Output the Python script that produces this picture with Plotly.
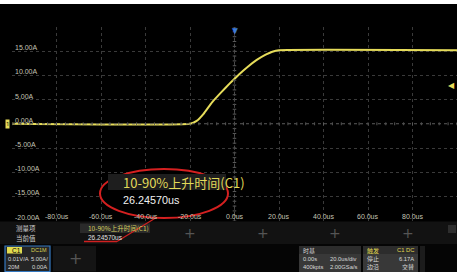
import plotly.graph_objects as go

# ---- data ----
time_us = [-100, -20, -17, -14, -10, -6, -2, 2, 6, 10, 14, 17, 20, 100]
current_a = [0, 0, 0.6, 2.0, 4.5, 6.5, 8.4, 10.2, 11.8, 13.2, 14.3, 14.9, 15.2, 15.2]
y_ticks = [15, 10, 5, 0, -5, -10, -15, -20]
y_tick_labels = ["15.00A", "10.00A", "5.00A", "0.00A", "-5.00A", "-10.00A", "-15.00A", "-20.00A"]
x_ticks = [-80, -60, -40, -20, 0, 20, 40, 60, 80]
x_tick_labels = ["-80.0us", "-60.0us", "-40.0us", "-20.0us", "0.0us", "20.0us", "40.0us", "60.0us", "80.0us"]
meas_name = "10-90%上升时间(C1)"
meas_value = "26.24570us"
trigger_level = 6.17

W, H = 457, 273
def px(x): return x / W
def py(y): return 1 - y / H

GRID_L, GRID_R, GRID_T, GRID_B = 12, 457, 27, 220.6
YEL = "#e6dc5a"
LBL = "#c4c4b4"
CJK = "Noto Sans CJK SC"
F = "Liberation Sans"

fig = go.Figure()
fig.add_trace(go.Scatter(x=time_us, y=current_a, mode="lines",
                         line=dict(color=YEL, width=2, shape="spline", smoothing=0.4),
                         hoverinfo="skip", showlegend=False))

shapes = []
annots = []

# minor tick marks on centre axes
for k in range(-25, 26):
    t = k * 4.0
    shapes.append(dict(type="line", xref="x", yref="y", x0=t, x1=t, y0=-0.3, y1=0.3,
                       line=dict(color="#5a5a5a", width=1)))
for k in range(-20, 21):
    v = k * 1.0
    shapes.append(dict(type="line", xref="x", yref="y", x0=-0.8, x1=0.8, y0=v, y1=v,
                       line=dict(color="#5a5a5a", width=1)))
shapes.append(dict(type="line", xref="x", yref="y", x0=-100, x1=100, y0=0, y1=0,
                   line=dict(color="#4a4a4a", width=1, dash="dot")))
shapes.append(dict(type="line", xref="x", yref="y", x0=0, x1=0, y0=-20, y1=20,
                   line=dict(color="#4a4a4a", width=1, dash="dot")))

# axis labels inside the grid
for v, s in zip(y_ticks, y_tick_labels):
    annots.append(dict(x=px(13), xref="paper", y=v, yref="y", text=s, showarrow=False,
                       xanchor="left", yanchor="bottom", yshift=-2,
                       font=dict(size=7, color=LBL, family=F)))
for v, s in zip(x_ticks, x_tick_labels):
    annots.append(dict(x=v, xref="x", y=py(216), yref="paper", text=s, showarrow=False,
                       xanchor="center", yanchor="middle",
                       font=dict(size=7, color=LBL, family=F)))

# channel marker at left, trigger markers at top and right
annots.append(dict(x=px(7), xref="paper", y=0, yref="y", text="1", showarrow=False,
                   bgcolor=YEL, font=dict(size=6, color="#000"), borderpad=0,
                   xanchor="center", yanchor="middle"))
annots.append(dict(x=0, xref="x", y=py(30), yref="paper", text="▼", showarrow=False,
                   font=dict(size=10, color="#3a7ad8"), xanchor="center", yanchor="middle"))
annots.append(dict(x=px(457), xref="paper", y=py(84), yref="paper", text="◀", showarrow=False,
                   font=dict(size=8, color=YEL), xanchor="right", yanchor="middle"))

# top / bottom white strips
shapes.append(dict(type="rect", xref="paper", yref="paper", x0=0, x1=1, y0=py(4), y1=1,
                   fillcolor="#ffffff", line=dict(width=0), layer="above"))
shapes.append(dict(type="rect", xref="paper", yref="paper", x0=0, x1=1, y0=0, y1=py(272),
                   fillcolor="#ffffff", line=dict(width=0), layer="above"))

# measurement bar
shapes.append(dict(type="rect", xref="paper", yref="paper", x0=0, x1=1, y0=py(244), y1=py(221.5),
                   fillcolor="#121212", line=dict(width=0), layer="above"))
shapes.append(dict(type="rect", xref="paper", yref="paper", x0=px(80), x1=px(150), y0=py(233), y1=py(223.5),
                   fillcolor="#2a2a2a", line=dict(width=0), layer="above"))
annots += [
    dict(x=px(14), y=py(228), text="测量项", font=dict(size=6.5, color="#d0d0d0", family=CJK)),
    dict(x=px(14), y=py(237.5), text="当前值", font=dict(size=6.5, color="#d0d0d0", family=CJK)),
    dict(x=px(86), y=py(228), text=meas_name, font=dict(size=6.5, color="#d8d060", family=CJK)),
    dict(x=px(86), y=py(237.5), text=meas_value, font=dict(size=6.5, color="#e0e0e0", family=F)),
]
for xp in [190, 263, 335, 408]:
    annots.append(dict(x=px(xp), y=py(233), text="+", xanchor="center",
                       font=dict(size=14, color="#555555", family="DejaVu Sans")))
shapes.append(dict(type="rect", xref="paper", yref="paper", x0=px(448), x1=px(456), y0=py(233), y1=py(225),
                   fillcolor="#2e2e2e", line=dict(width=0), layer="above"))
# underline & pointer
shapes.append(dict(type="line", xref="paper", yref="paper", x0=px(84), x1=px(117), y0=py(241.5), y1=py(241.5),
                   line=dict(color="#d02020", width=1.5), layer="above"))
shapes.append(dict(type="line", xref="paper", yref="paper", x0=px(117), x1=px(158), y0=py(241.5), y1=py(216.5),
                   line=dict(color="#d02020", width=1.2), layer="above"))

# status bar
shapes.append(dict(type="rect", xref="paper", yref="paper", x0=0, x1=1, y0=py(272), y1=py(244),
                   fillcolor="#050505", line=dict(width=0), layer="above"))
shapes.append(dict(type="rect", xref="paper", yref="paper", x0=px(5), x1=px(50), y0=py(271.5), y1=py(246),
                   fillcolor="#262626", line=dict(color="#3478c0", width=1.2), layer="above"))
shapes.append(dict(type="rect", xref="paper", yref="paper", x0=px(7), x1=px(22), y0=py(253.5), y1=py(247),
                   fillcolor="#e2dc50", line=dict(width=0), layer="above"))
shapes.append(dict(type="rect", xref="paper", yref="paper", x0=px(53), x1=px(96), y0=py(271.5), y1=py(246),
                   fillcolor="#141414", line=dict(width=0), layer="above"))
for x0, x1 in [(299, 361), (363, 418)]:
    shapes.append(dict(type="rect", xref="paper", yref="paper", x0=px(x0), x1=px(x1), y0=py(272), y1=py(246),
                       fillcolor="#383838", line=dict(width=0), layer="above"))
    shapes.append(dict(type="rect", xref="paper", yref="paper", x0=px(x0), x1=px(x1), y0=py(254), y1=py(246),
                       fillcolor="#2c2c2c", line=dict(width=0), layer="above"))
shapes.append(dict(type="rect", xref="paper", yref="paper", x0=px(420), x1=px(425), y0=py(272), y1=py(246),
                   fillcolor="#1c1c1c", line=dict(width=0), layer="above"))

annots += [
    dict(x=px(10), y=py(250.3), text="C1", font=dict(size=6.5, color="#000", family=F)),
    dict(x=px(49), y=py(250.3), text="DC1M", xanchor="right", font=dict(size=5.5, color="#d8d050", family=F)),
    dict(x=px(6), y=py(258.5), text="0.01V/A", font=dict(size=5.8, color="#d8d8d8", family=F)),
    dict(x=px(50), y=py(258.5), text="5.00A/", xanchor="right", font=dict(size=5.8, color="#d8d8d8", family=F)),
    dict(x=px(6), y=py(266.5), text="20M", font=dict(size=5.8, color="#d8d8d8", family=F)),
    dict(x=px(49), y=py(266.5), text="0.00A", xanchor="right", font=dict(size=5.8, color="#d8d8d8", family=F)),
    dict(x=px(75), y=py(258.5), text="+", xanchor="center", font=dict(size=16, color="#555555", family="DejaVu Sans")),
    dict(x=px(301), y=py(250), text="时基", font=dict(size=6, color="#d8d8d8", family=CJK)),
    dict(x=px(301), y=py(258.5), text="0.00s", font=dict(size=5.8, color="#d8d8d8", family=F)),
    dict(x=px(359), y=py(258.5), text="20.0us/div", xanchor="right", font=dict(size=5.8, color="#d8d8d8", family=F)),
    dict(x=px(301), y=py(266.5), text="400kpts", font=dict(size=5.8, color="#d8d8d8", family=F)),
    dict(x=px(359), y=py(266.5), text="2.00GSa/s", xanchor="right", font=dict(size=5.8, color="#d8d8d8", family=F)),
    dict(x=px(365), y=py(250), text="触发", font=dict(size=6, color="#e0d850", family=CJK)),
    dict(x=px(416), y=py(250), text="C1 DC", xanchor="right", font=dict(size=5.8, color="#e0d850", family=F)),
    dict(x=px(365), y=py(258.5), text="停止", font=dict(size=6, color="#d8d8d8", family=CJK)),
    dict(x=px(416), y=py(258.5), text=f"{trigger_level:.2f}A", xanchor="right", font=dict(size=5.8, color="#d8d8d8", family=F)),
    dict(x=px(365), y=py(266.5), text="边沿", font=dict(size=6, color="#d8d8d8", family=CJK)),
    dict(x=px(416), y=py(266.5), text="交替", xanchor="right", font=dict(size=6, color="#d8d8d8", family=CJK)),
]

# zoom-ellipse callout
shapes.append(dict(type="circle", xref="paper", yref="paper", x0=px(100), x1=px(228), y0=py(218), y1=py(169),
                   fillcolor="#000000", line=dict(color="#d42020", width=2), layer="above"))
shapes.append(dict(type="rect", xref="paper", yref="paper", x0=px(108), x1=px(226), y0=py(190), y1=py(174),
                   fillcolor="#1e1e1e", line=dict(width=0), layer="above"))
annots += [
    dict(x=px(121), y=py(182), text=meas_name, font=dict(size=13, color="#e2da5a", family=CJK)),
    dict(x=px(121), y=py(199.5), text=meas_value, font=dict(size=10.8, color="#f0f0f0", family=F)),
]

for a in annots:
    a.setdefault("xref", "paper")
    a.setdefault("yref", "paper")
    a.setdefault("showarrow", False)
    a.setdefault("xanchor", "left")
    a.setdefault("yanchor", "middle")

fig.update_layout(
    width=W, height=H, margin=dict(l=0, r=0, t=0, b=0),
    paper_bgcolor="#000000", plot_bgcolor="#000000",
    xaxis=dict(domain=[px(GRID_L), px(GRID_R)], range=[-100, 100], dtick=20, tick0=-100,
               showgrid=True, gridcolor="#3a3a3a", griddash="dot", gridwidth=1,
               showticklabels=False, zeroline=False, showline=False, fixedrange=True),
    yaxis=dict(domain=[py(GRID_B), py(GRID_T)], range=[-20, 20], dtick=5, tick0=-20,
               showgrid=True, gridcolor="#3a3a3a", griddash="dot", gridwidth=1,
               showticklabels=False, zeroline=False, showline=False, fixedrange=True),
    shapes=shapes, annotations=annots, showlegend=False,
)
fig.write_html("out.html", config={"displayModeBar": False},
               post_script="document.body.style.margin='0';document.body.style.overflow='hidden';")
